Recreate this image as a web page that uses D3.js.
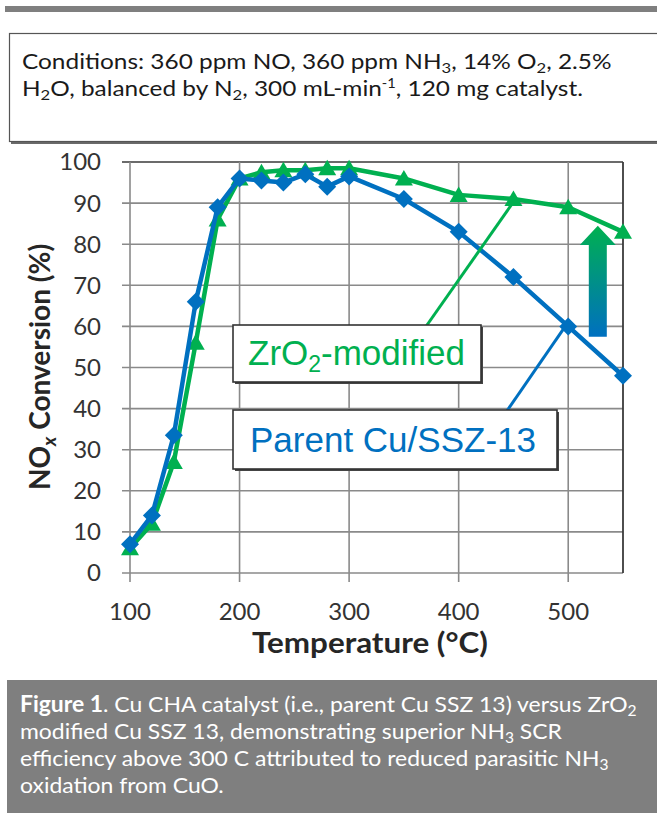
<!DOCTYPE html>
<html>
<head>
<meta charset="utf-8">
<script src="https://cdn.jsdelivr.net/npm/d3@7"></script>
<style>
  body { margin: 0; background: #fff; }
  svg { display: block; }
</style>
</head>
<body>
<svg id="chart" width="657" height="815"></svg>
<script>
// Data
const temps = [100, 120, 140, 160, 180, 200, 220, 240, 260, 280, 300, 350, 400, 450, 500, 550];
const parentVals = [7, 14, 33.5, 66, 89, 96, 95.5, 95, 97, 94, 96.5, 91, 83, 72, 60, 48];
const zrVals = [6, 12, 27, 56, 86, 96, 97.5, 98, 98, 98.5, 98.5, 96, 92, 91, 89, 83];
const xTicks = [100, 200, 300, 400, 500];
const yTicks = [0, 10, 20, 30, 40, 50, 60, 70, 80, 90, 100];

const GREEN = "#00b050", BLUE = "#0070c0";
const GRID = "#8a8a8a", DARK = "#3a3a3a";
const sans = "Lato, 'Open Sans', sans-serif";

const svg = d3.select("#chart");

// horizontal scale around the left edge of a text
function squeeze(sel, x0, k) {
  sel.attr("transform", `translate(${x0},0) scale(${k},1) translate(${-x0},0)`);
}
// writes a block of lines with one common horizontal scale, fitted so the first line gets width w
function textBlock(lines, x0, size, color, w) {
  const nodes = lines.map(l => {
    const t = svg.append("text").attr("x", x0).attr("y", l.y)
      .style("font", `${size}px ${sans}`).attr("fill", color);
    let shift = 0;
    l.parts.forEach(([s, k]) => {
      const sp = t.append("tspan").text(s);
      let dy = 0;
      if (k === "b") sp.attr("font-weight", "bold");
      if (k === "sub") { sp.attr("font-size", size * 0.68); dy = size * 0.17; }
      if (k === "sup") { sp.attr("font-size", size * 0.6); dy = -size * 0.4; }
      sp.attr("dy", dy - shift);
      shift = dy;
    });
    return t;
  });
  const k = w / nodes[0].node().getBBox().width;
  nodes.forEach(n => squeeze(n, x0, k));
}

// top rule
svg.append("rect").attr("x", 5).attr("y", 6).attr("width", 660).attr("height", 6).attr("fill", "#7f7f7f");

// conditions box
svg.append("rect").attr("x", 11).attr("y", 35).attr("width", 660).attr("height", 109).attr("fill", "#6a6a6a");
svg.append("rect").attr("x", 9.5).attr("y", 33.5).attr("width", 660).attr("height", 108)
  .attr("fill", "#fff").attr("stroke", "#555").attr("stroke-width", 1.2);

textBlock([
  { y: 69, parts: [["Conditions: 360 ppm NO, 360 ppm NH"], ["3", "sub"], [", 14% O"], ["2", "sub"], [", 2.5%"]] },
  { y: 96, parts: [["H"], ["2", "sub"], ["O, balanced by N"], ["2", "sub"], [", 300 mL-min"], ["-1", "sup"], [", 120 mg catalyst."]] }
], 22, 21, "#1a1a1a", 590);

// scales
const x = d3.scaleLinear().domain([100, 550]).range([130, 623]);
const y = d3.scaleLinear().domain([0, 100]).range([573, 162]);

const plot = svg.append("g");

// gridlines
plot.selectAll(".hgrid").data(yTicks).enter().append("line")
  .attr("x1", 122).attr("x2", x(550))
  .attr("y1", d => y(d)).attr("y2", d => y(d))
  .attr("stroke", d => d === 100 ? DARK : GRID).attr("stroke-width", 1.6);
plot.selectAll(".vgrid").data(xTicks).enter().append("line")
  .attr("x1", d => x(d)).attr("x2", d => x(d))
  .attr("y1", y(100)).attr("y2", 582)
  .attr("stroke", GRID).attr("stroke-width", 1.6);
plot.append("line").attr("x1", x(550)).attr("x2", x(550))
  .attr("y1", y(100)).attr("y2", y(0)).attr("stroke", DARK).attr("stroke-width", 1.8);

// tick labels
svg.append("g").selectAll("text").data(yTicks).enter().append("text")
  .attr("x", 101).attr("y", d => y(d)).attr("dy", "0.35em")
  .attr("text-anchor", "end").style("font", `24px ${sans}`).attr("fill", "#333")
  .text(d => d);
svg.append("g").selectAll("text").data(xTicks).enter().append("text")
  .attr("x", d => x(d)).attr("y", 620)
  .attr("text-anchor", "middle").style("font", `24px ${sans}`).attr("fill", "#333")
  .text(d => d);

// axis titles
const xt = svg.append("text").attr("x", 252).attr("y", 653)
  .style("font", `bold 29px ${sans}`).attr("fill", "#262626")
  .text("Temperature (°C)");
squeeze(xt, 252, 236 / xt.node().getBBox().width);

const yt = svg.append("text").attr("transform", "translate(50,367) rotate(-90)")
  .attr("text-anchor", "middle").style("font", `bold 28px ${sans}`).attr("fill", "#262626");
yt.append("tspan").text("NO");
yt.append("tspan").attr("font-size", 19).attr("font-style", "italic").attr("dy", 6).text("x");
yt.append("tspan").attr("dy", -6).text(" Conversion (%)");

// series lines
const line = d3.line().x(d => x(d[0])).y(d => y(d[1]));
const zrData = temps.map((t, i) => [t, zrVals[i]]);
const parentData = temps.map((t, i) => [t, parentVals[i]]);

plot.append("path").datum(zrData).attr("d", line)
  .attr("fill", "none").attr("stroke", GREEN).attr("stroke-width", 4.5).attr("stroke-linejoin", "round");
plot.selectAll(".tri").data(zrData).enter().append("path")
  .attr("d", "M0,-8.5L9,7L-9,7Z")
  .attr("transform", d => `translate(${x(d[0])},${y(d[1])})`)
  .attr("fill", GREEN);

plot.append("path").datum(parentData).attr("d", line)
  .attr("fill", "none").attr("stroke", BLUE).attr("stroke-width", 4.5).attr("stroke-linejoin", "round");
plot.selectAll(".dia").data(parentData).enter().append("path")
  .attr("d", "M0,-9L9,0L0,9L-9,0Z")
  .attr("transform", d => `translate(${x(d[0])},${y(d[1])})`)
  .attr("fill", BLUE);

// up arrow with green-to-blue gradient
const defs = svg.append("defs");
const grad = defs.append("linearGradient").attr("id", "arrowGrad")
  .attr("x1", 0).attr("y1", 0).attr("x2", 0).attr("y2", 1);
grad.append("stop").attr("offset", "0%").attr("stop-color", GREEN);
grad.append("stop").attr("offset", "100%").attr("stop-color", BLUE);
const ax = x(527), aTop = y(84.5), aHead = y(79.8), aBot = y(57.5);
svg.append("path")
  .attr("d", `M${ax},${aTop}L${ax + 18},${aHead}L${ax + 9},${aHead}L${ax + 9},${aBot}` +
             `L${ax - 9},${aBot}L${ax - 9},${aHead}L${ax - 18},${aHead}Z`)
  .attr("fill", "url(#arrowGrad)");

// callout labels with leader lines
const labFont = "'Liberation Sans', Arial, sans-serif";
svg.append("line").attr("x1", 420).attr("y1", 335).attr("x2", x(450)).attr("y2", y(zrVals[13]) + 3)
  .attr("stroke", GREEN).attr("stroke-width", 3);
svg.append("line").attr("x1", 500).attr("y1", 421).attr("x2", x(500) - 3).attr("y2", y(parentVals[14]))
  .attr("stroke", BLUE).attr("stroke-width", 3);

function callout(x0, y0, w, h) {
  svg.append("rect").attr("x", x0 + 2).attr("y", y0 + 2).attr("width", w).attr("height", h).attr("fill", "#444");
  svg.append("rect").attr("x", x0).attr("y", y0).attr("width", w).attr("height", h)
    .attr("fill", "#fff").attr("stroke", "#333").attr("stroke-width", 1.6);
}
callout(233, 325, 248, 57);
const zt = svg.append("text").attr("x", 248).attr("y", 365)
  .style("font", `35px ${labFont}`).attr("fill", GREEN);
zt.append("tspan").text("ZrO");
zt.append("tspan").attr("font-size", 23).attr("dy", 7).text("2");
zt.append("tspan").attr("dy", -7).text("-modified");

callout(233, 410, 324, 59);
svg.append("text").attr("x", 250).attr("y", 452)
  .style("font", `35px ${labFont}`).attr("fill", BLUE).text("Parent Cu/SSZ-13");

// caption panel
svg.append("rect").attr("x", 7).attr("y", 680).attr("width", 660).attr("height", 133).attr("fill", "#7f7f7f");
textBlock([
  { y: 712, parts: [["Figure 1", "b"], [". Cu CHA catalyst (i.e., parent Cu SSZ 13) versus ZrO"], ["2", "sub"]] },
  { y: 739, parts: [["modified Cu SSZ 13, demonstrating superior NH"], ["3", "sub"], [" SCR"]] },
  { y: 766, parts: [["efficiency above 300  C attributed to reduced parasitic NH"], ["3", "sub"]] },
  { y: 793, parts: [["oxidation from CuO."]] }
], 20, 22, "#fff", 617);
</script>
</body>
</html>
